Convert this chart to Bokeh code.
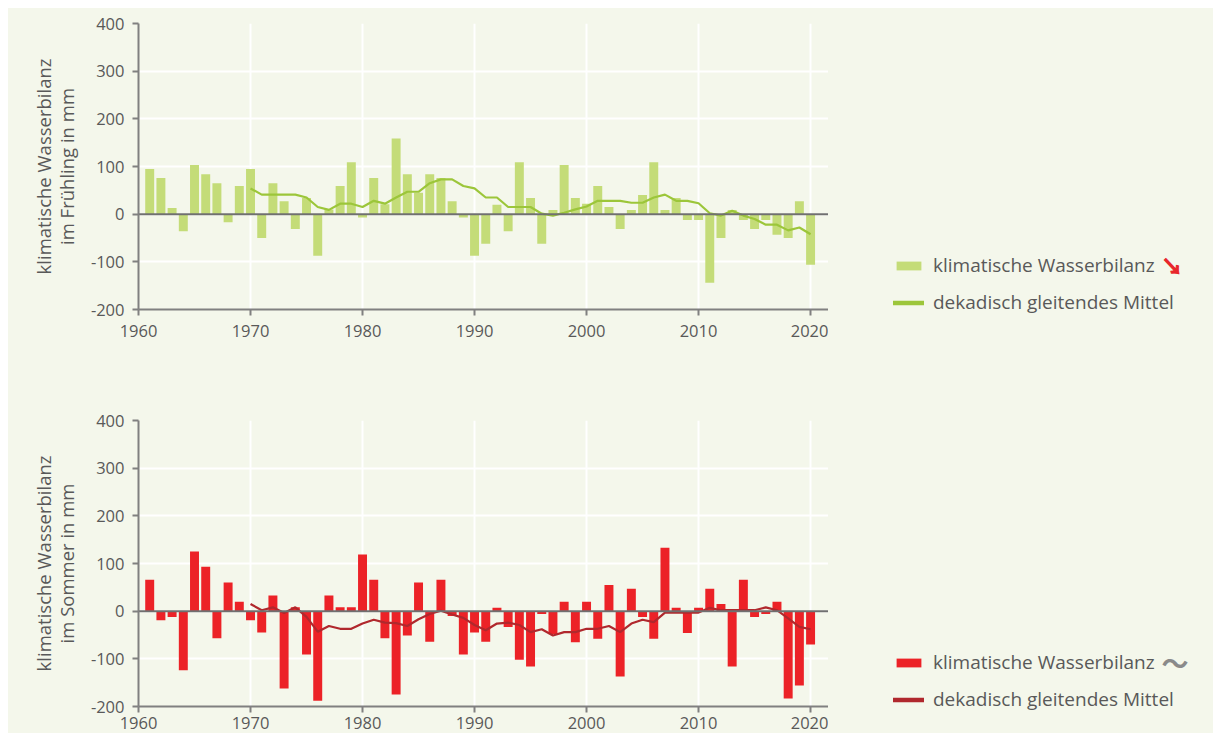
from bokeh.plotting import figure
from bokeh.layouts import column, row
from bokeh.models import (ColumnDataSource, Legend, LegendItem, Span, Label,
                          FixedTicker, Range1d)
from bokeh.embed import file_html
from bokeh.resources import INLINE

# ---------------- data ----------------
years = list(range(1961, 2021))
spring = [95, 76, 13, -36, 103, 84, 65, -17, 59, 95,
          -50, 65, 27, -31, 34, -87, 10, 59, 109, -7,
          76, 21, 159, 84, 45, 84, 76, 27, -7, -87,
          -62, 20, -36, 109, 34, -62, 9, 103, 34, 22,
          59, 15, -31, 9, 40, 109, 9, 34, -12, -12,
          -144, -50, 9, -12, -31, -12, -43, -50, 27, -106]
summer = [66, -19, -12, -124, 125, 93, -57, 60, 20, -19,
          -45, 33, -162, 8, -91, -188, 33, 8, 8, 119,
          66, -57, -175, -51, 60, -64, 66, -10, -91, -45,
          -64, 7, -33, -102, -116, -6, -48, 20, -65, 20,
          -58, 55, -137, 47, -12, -58, 133, 7, -46, 7,
          47, 15, -116, 66, -12, -6, 20, -183, -156, -70]
mean_years = list(range(1970, 2021))
spring_mean = [54, 41, 41, 41, 41, 35, 15, 9, 22, 22,
               15, 28, 22, 35, 47, 47, 65, 73, 73, 59,
               54, 35, 35, 15, 15, 15, 1, -3, 3, 10,
               16, 28, 28, 28, 24, 24, 35, 41, 28, 28,
               23, 2, -3, 7, -3, -10, -22, -22, -34, -28, -42]
summer_mean = [15, 2, 8, -4, 8, -12, -43, -31, -37, -37,
               -26, -18, -24, -25, -31, -17, -6, 1, -7, -14,
               -29, -40, -26, -24, -29, -44, -38, -51, -44, -44,
               -37, -37, -31, -44, -26, -18, -23, -3, -3, -3,
               -3, 7, 2, 2, 2, 2, 8, 2, -15, -33, -38]
y_ticks = [-200, -100, 0, 100, 200, 300, 400]
y_tick_labels = ["-200", "-100", "0", "100", "200", "300", "400"]
x_ticks = [1960, 1970, 1980, 1990, 2000, 2010, 2020]

labels = {
    "bar": "klimatische Wasserbilanz",
    "mean": "dekadisch gleitendes Mittel",
    "y_spring": "klimatische Wasserbilanz\nim Frühling in mm",
    "y_summer": "klimatische Wasserbilanz\nim Sommer in mm",
}

BG = "#f4f7eb"
TXT = "#595959"
AX = "#808080"
FONT = "Open Sans"
NAN = float("nan")


def make_chart(values, means, bar_color, line_color, ylabel, height, top,
               bottom, x_standoff):
    p = figure(width=820, height=height, output_backend="svg",
               toolbar_location=None, x_range=Range1d(1960, 2021.6),
               y_range=Range1d(-200, 400),
               min_border_left=130, min_border_right=0,
               min_border_top=top, min_border_bottom=bottom)
    p.background_fill_color = BG
    p.border_fill_color = BG
    p.outline_line_color = None

    src = ColumnDataSource(dict(x=years, v=values))
    msrc = ColumnDataSource(dict(x=mean_years, v=means))
    p.vbar(x="x", top="v", bottom=0, width=0.8, source=src,
           fill_color=bar_color, line_color=None)
    p.add_layout(Span(location=0, dimension="width", line_color="#707070",
                      line_width=2, level="glyph"))
    p.line(x="x", y="v", source=msrc, line_color=line_color, line_width=2.2)

    p.xgrid.ticker = FixedTicker(ticks=x_ticks)
    p.ygrid.ticker = FixedTicker(ticks=y_ticks)
    for g in (p.xgrid, p.ygrid):
        g.grid_line_color = "white"
        g.grid_line_width = 2

    p.xaxis.ticker = FixedTicker(ticks=x_ticks)
    p.yaxis.ticker = FixedTicker(ticks=y_ticks)
    p.yaxis.major_label_overrides = dict(zip(y_ticks, y_tick_labels))
    for ax in (p.xaxis, p.yaxis):
        ax.axis_line_color = AX
        ax.axis_line_width = 2
        ax.major_tick_line_color = AX
        ax.major_tick_line_width = 2
        ax.major_tick_out = 6
        ax.major_tick_in = 0
        ax.minor_tick_line_color = None
        ax.major_label_text_font = FONT
        ax.major_label_text_font_size = "16.5px"
        ax.major_label_text_color = TXT
    p.xaxis.major_label_standoff = x_standoff
    p.yaxis.major_label_standoff = 8
    p.yaxis.axis_label = ylabel
    p.yaxis.axis_label_text_font = FONT
    p.yaxis.axis_label_text_font_size = "18.5px"
    p.yaxis.axis_label_text_font_style = "normal"
    p.yaxis.axis_label_text_line_height = 0.9
    p.yaxis.axis_label_text_color = TXT
    p.yaxis.axis_label_standoff = 9
    return p


def make_legend(bar_color, line_color, height, leg_y, sym, sym_color,
                sym_font, sym_size, sym_style, sym_x, sym_y, outline):
    q = figure(width=385, height=height, output_backend="svg",
               toolbar_location=None, x_range=Range1d(0, 1),
               y_range=Range1d(0, 1), min_border=0)
    q.axis.visible = False
    q.grid.visible = False
    q.background_fill_color = BG
    q.border_fill_color = BG
    q.outline_line_color = None
    proxy = ColumnDataSource(dict(x=[NAN], v=[NAN]))
    rb = q.vbar(x="x", top="v", width=0.8, source=proxy,
                fill_color=bar_color, line_color=None)
    rl = q.line(x="x", y="v", source=proxy, line_color=line_color,
                line_width=4.5, line_cap="round")
    leg = Legend(items=[LegendItem(label=labels["bar"], renderers=[rb]),
                        LegendItem(label=labels["mean"], renderers=[rl])],
                 location=(65, leg_y), orientation="vertical",
                 glyph_width=31, glyph_height=11, label_standoff=9,
                 label_height=20, spacing=11, padding=0, margin=0,
                 background_fill_alpha=0, border_line_color=None,
                 label_text_font=FONT, label_text_font_size="19px",
                 label_text_color=TXT)
    q.add_layout(leg, "center")
    q.add_layout(Label(x=sym_x, y=sym_y, x_units="screen", y_units="screen",
                       text=sym, text_color=sym_color,
                       text_font_size=sym_size, text_font_style=sym_style,
                       text_font=sym_font, text_baseline="middle",
                       text_align="left",
                       text_outline_color=sym_color if outline else None))
    return q


p1 = make_chart(spring, spring_mean, "#c4dc78", "#9cc63a",
                labels["y_spring"], 362, 15, 61, 9)
l1 = make_legend("#c4dc78", "#9cc63a", 362, 55, "\u2198", "#e8262b",
                 "Noto Sans CJK JP", "21px", "bold", 333, 106, True)
p2 = make_chart(summer, summer_mean, "#ec2227", "#b0282d",
                labels["y_summer"], 363, 50, 27, 4)
l2 = make_legend("#ec2227", "#b0282d", 363, 21, "\u301c", "#8a8a8a",
                 "Noto Sans CJK JP", "27px", "bold", 333, 71, False)

layout = column(row(p1, column(l1), spacing=0, styles={"background-color": BG}),
                row(p2, column(l2), spacing=0, styles={"background-color": BG}),
                spacing=0, margin=(8, 0, 0, 8),
                styles={"background-color": BG})
open("out.html", "w").write(file_html(layout, INLINE))
